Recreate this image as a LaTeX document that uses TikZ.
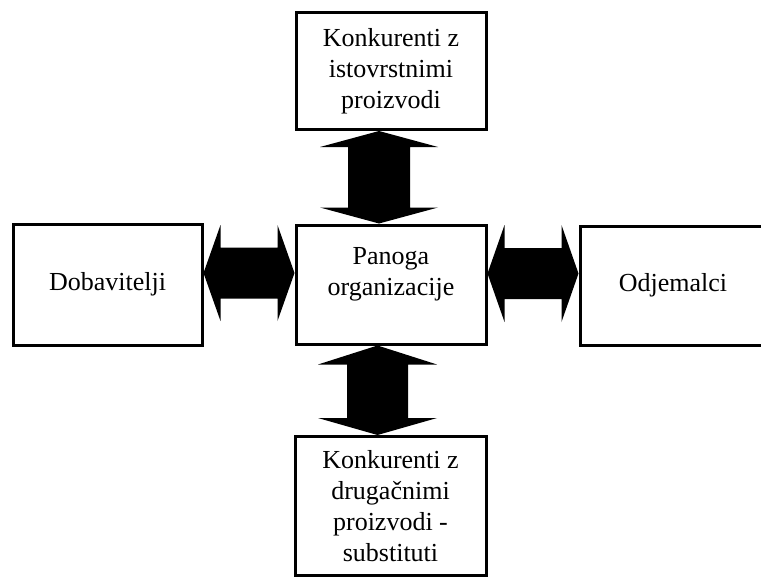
\documentclass[tikz,border=0pt]{standalone}
\usepackage{fontspec}
\setmainfont{Liberation Serif}
\usetikzlibrary{calc}
\tikzset{
  box/.style={draw=black, line width=3pt, inner sep=0pt, align=center,
    font=\fontsize{26}{31}\selectfont},
  txt/.style={inner sep=0pt, align=center, font=\fontsize{26}{31}\selectfont},
  blockarrow/.style={fill=black}
}
\begin{document}
\begin{tikzpicture}[x=1pt,y=-1pt]
\useasboundingbox (0,0) rectangle (761,578);
% boxes
\node[box, minimum width=190pt, minimum height=117pt] (top) at (391,71)
  {Konkurenti z\\istovrstnimi\\proizvodi};
\node[box, minimum width=190pt, minimum height=119pt] (pan) at (391,284.5) {};
\node[txt] (pantxt) at ([yshift=10pt]pan.center) {Panoga\\organizacije};
\node[box, minimum width=189pt, minimum height=121pt] (dob) at (107.5,284.5) {Dobavitelji};
\node[box, minimum width=240pt, minimum height=119pt] (odj) at (700,285.5) {};
\node[txt] (odjtxt) at (673,285.5) {Odjemalci};
\node[box, minimum width=191pt, minimum height=139pt] (sub) at (390.5,506)
  {Konkurenti z\\drugačnimi\\proizvodi -\\substituti};
% left double arrow
\fill[blockarrow] let \p1=(dob.east), \p2=(pan.west) in
  (\x1,-273pt) -- (\x1+17pt,-225pt) -- (\x1+17pt,-247.5pt) -- (\x2-17pt,-247.5pt)
  -- (\x2-17pt,-225pt) -- (\x2,-273pt) -- (\x2-17pt,-321pt) -- (\x2-17pt,-298.5pt)
  -- (\x1+17pt,-298.5pt) -- (\x1+17pt,-321pt) -- cycle;
% right double arrow
\fill[blockarrow] let \p1=(pan.east), \p2=(odj.west) in
  (\x1,-273.5pt) -- (\x1+17pt,-225pt) -- (\x1+17pt,-248pt) -- (\x2-17pt,-248pt)
  -- (\x2-17pt,-225pt) -- (\x2,-273.5pt) -- (\x2-17pt,-322pt) -- (\x2-17pt,-299pt)
  -- (\x1+17pt,-299pt) -- (\x1+17pt,-322pt) -- cycle;
% top double arrow
\fill[blockarrow] let \p1=(top.south), \p2=(pan.north) in
  (379pt,\y1) -- (438pt,\y1-16pt) -- (410pt,\y1-16pt) -- (410pt,\y2+16pt)
  -- (438pt,\y2+16pt) -- (379pt,\y2) -- (320pt,\y2+16pt) -- (348pt,\y2+16pt)
  -- (348pt,\y1-16pt) -- (320pt,\y1-16pt) -- cycle;
% bottom double arrow
\fill[blockarrow] let \p1=(pan.south), \p2=(sub.north) in
  (377.5pt,\y1) -- (437pt,\y1-19pt) -- (408pt,\y1-19pt) -- (408pt,\y2+17pt)
  -- (437pt,\y2+17pt) -- (377.5pt,\y2) -- (318pt,\y2+17pt) -- (347pt,\y2+17pt)
  -- (347pt,\y1-19pt) -- (318pt,\y1-19pt) -- cycle;
\end{tikzpicture}
\end{document}
